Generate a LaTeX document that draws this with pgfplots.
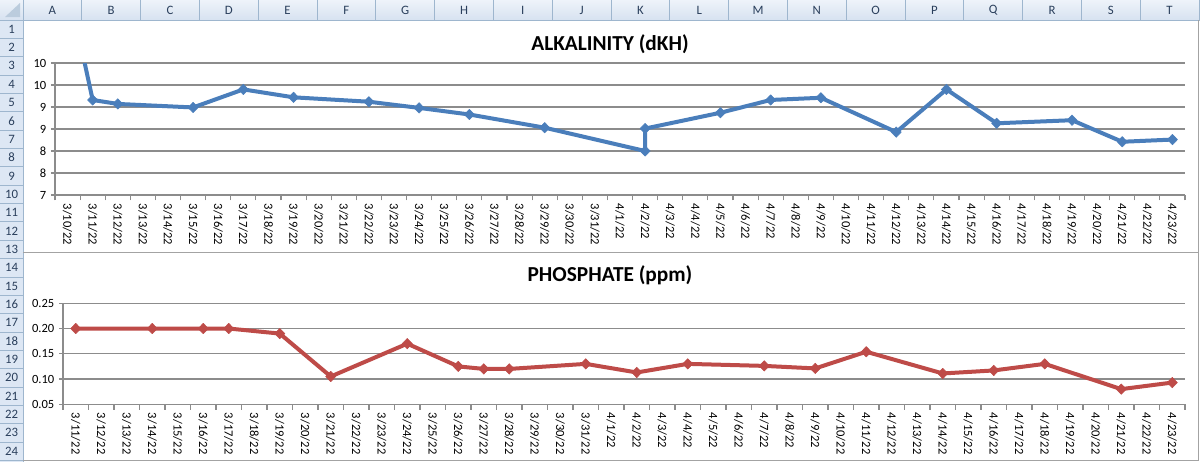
\documentclass[border=0pt]{standalone}
\usepackage{fontspec}
\setmainfont{Carlito}
\usepackage{pgfplots}
\pgfplotsset{compat=1.18}

\definecolor{alkblue}{HTML}{4A7EBB}
\definecolor{phosred}{HTML}{BE4B48}
\definecolor{gridgray}{HTML}{8C8C8C}
\definecolor{hdrline}{HTML}{9EB6CE}
\definecolor{hdrfill}{HTML}{DDE7F4}
\definecolor{hdrtext}{HTML}{2A3F5C}

\pgfplotsset{
  excelchart/.style={
    scale only axis,
    axis x line=bottom, axis y line=left,
    axis line style={gridgray, line width=0.8pt, -},
    ymajorgrids, grid style={gridgray, line width=0.8pt},
    major tick length=3pt, minor tick length=4pt, tick align=outside,
    tick style={gridgray, line width=0.8pt},
    every major x tick/.append style={draw opacity=0},
    ticklabel style={font=\fontsize{9.4}{10}\selectfont, black},
    xticklabel style={rotate=-90, anchor=west},
    clip marker paths=true,
  },
  excelline/.style={
    line width=3pt, line join=round, mark=diamond*, mark size=3.9pt,
    mark options={solid, line width=0.4pt, xscale=1.3},
  },
}

\begin{document}
\begin{tikzpicture}
% spreadsheet background and headers
\begin{scope}[x=0.75pt,y=-0.75pt]
  \fill[white] (0,0) rectangle (1200,462);
  \shade[top color=hdrfill!50!white, bottom color=hdrfill!90!hdrline] (0,0) rectangle (1200,20);
  \fill[hdrfill] (0,20) rectangle (23,462);
  \draw[hdrline, line width=0.6pt] (0,20) -- (1200,20);
  \draw[hdrline, line width=0.6pt] (23,0) -- (23,462);
  \foreach \k in {1,...,20} \draw[hdrline, line width=0.6pt] ({23+58.8*\k},0) -- ({23+58.8*\k},20);
  \foreach \k in {1,...,24} \draw[hdrline, line width=0.6pt] (0,{20+18.35*\k}) -- (23,{20+18.35*\k});
  \fill[hdrline!70!white] (5,17) -- (20,17) -- (20,3) -- cycle;
  \foreach \l [count=\i from 0] in {A,B,C,D,E,F,G,H,I,J,K,L,M,N,O,P,Q,R,S,T}
    \node[text=hdrtext, font=\fontsize{9.6}{10}\selectfont] at ({23+58.8*(\i+0.5)},10.5) {\l};
  \foreach \r in {1,...,24}
    \node[text=hdrtext, font=\fontsize{9.6}{10}\selectfont] at (11.5,{20+18.35*(\r-0.5)}) {\r};
\end{scope}

% alkalinity chart
\begin{axis}[excelchart,
  at={(41.25pt,-146.25pt)}, anchor=south west,
  width=847.5pt, height=99pt,
  xmin=-0.5, xmax=44.5, ymin=7, ymax=10,
  xtick={0,...,44}, minor xtick={-0.5,0.5,...,44.5},
  xticklabels={3/10/22,3/11/22,3/12/22,3/13/22,3/14/22,3/15/22,3/16/22,3/17/22,3/18/22,3/19/22,3/20/22,3/21/22,3/22/22,3/23/22,3/24/22,3/25/22,3/26/22,3/27/22,3/28/22,3/29/22,3/30/22,3/31/22,4/1/22,4/2/22,4/3/22,4/4/22,4/5/22,4/6/22,4/7/22,4/8/22,4/9/22,4/10/22,4/11/22,4/12/22,4/13/22,4/14/22,4/15/22,4/16/22,4/17/22,4/18/22,4/19/22,4/20/22,4/21/22,4/22/22,4/23/22},
  ytick={7,7.5,...,10}, yticklabels={7,8,8,9,9,10,10},
]
\addplot[excelline, color=alkblue] coordinates {
  (0,11.8) (1,9.16) (2,9.07) (5,8.99) (7,9.40) (9,9.22) (12,9.12)
  (14,8.98) (16,8.83) (19,8.53) (23,8.00) (23,8.51) (26,8.87) (28,9.16)
  (30,9.21) (33,8.43) (35,9.40) (37,8.63) (40,8.70) (42,8.21) (44,8.26)
};
\end{axis}

% phosphate chart
\begin{axis}[excelchart,
  at={(47.25pt,-303.2pt)}, anchor=south west,
  width=841.5pt, height=75.75pt,
  xmin=-0.5, xmax=43.5, ymin=0.05, ymax=0.25,
  xtick={0,...,43}, minor xtick={-0.5,0.5,...,43.5},
  xticklabels={3/11/22,3/12/22,3/13/22,3/14/22,3/15/22,3/16/22,3/17/22,3/18/22,3/19/22,3/20/22,3/21/22,3/22/22,3/23/22,3/24/22,3/25/22,3/26/22,3/27/22,3/28/22,3/29/22,3/30/22,3/31/22,4/1/22,4/2/22,4/3/22,4/4/22,4/5/22,4/6/22,4/7/22,4/8/22,4/9/22,4/10/22,4/11/22,4/12/22,4/13/22,4/14/22,4/15/22,4/16/22,4/17/22,4/18/22,4/19/22,4/20/22,4/21/22,4/22/22,4/23/22},
  ytick={0.05,0.10,0.15,0.20,0.25}, yticklabels={0.05,0.10,0.15,0.20,0.25},
]
\addplot[excelline, color=phosred] coordinates {
  (0,0.200) (3,0.200) (5,0.200) (6,0.200) (8,0.190) (10,0.105) (13,0.170)
  (15,0.125) (16,0.120) (17,0.120) (20,0.130) (22,0.113) (24,0.130)
  (27,0.126) (29,0.121) (31,0.154) (34,0.111) (36,0.117) (38,0.130)
  (41,0.080) (43,0.093)
};
\end{axis}

% chart frames and titles
\begin{scope}[x=0.75pt,y=-0.75pt]
  \draw[gridgray!80!white, line width=0.6pt] (23,252) -- (1198,252);
  \draw[gridgray!80!white, line width=0.6pt] (23,460.5) -- (1198,460.5) -- (1198,20);
  \node[anchor=base, font=\bfseries\fontsize{16}{18}\selectfont] at (610,50) {ALKALINITY (dKH)};
  \node[anchor=base, font=\bfseries\fontsize{16}{18}\selectfont] at (610,281) {PHOSPHATE (ppm)};
\end{scope}
\pgfresetboundingbox
\path (0,0) rectangle (900pt,-346.5pt);
\end{tikzpicture}
\end{document}
